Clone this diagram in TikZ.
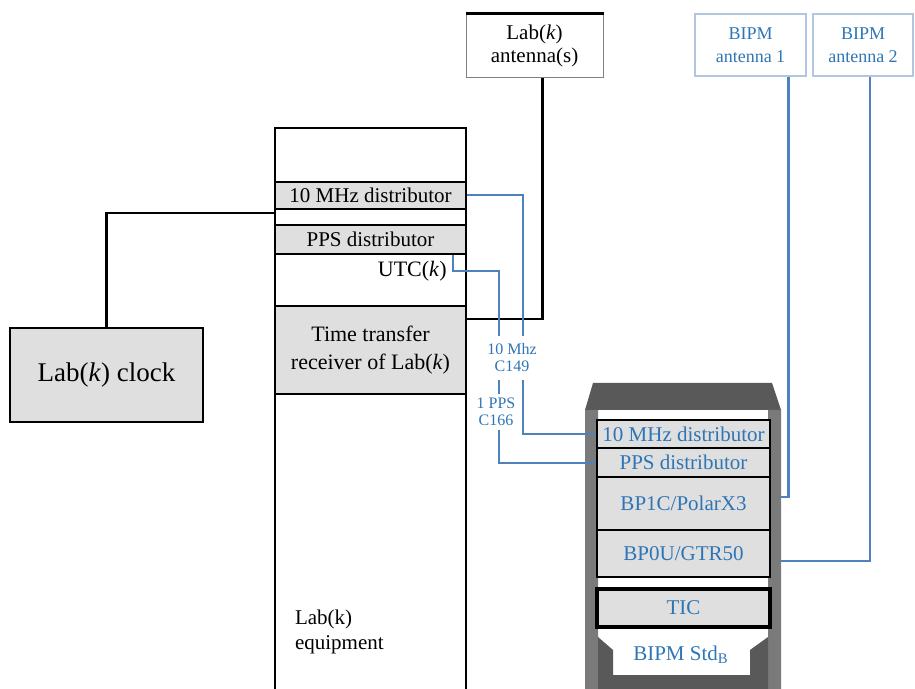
\documentclass[tikz,border=0pt]{standalone}
\usepackage{fontspec}
\setmainfont{Liberation Serif}
\usetikzlibrary{calc, positioning}
\definecolor{bipmblue}{RGB}{46,117,182}
\definecolor{bipmline}{RGB}{79,129,189}
\definecolor{rackdark}{RGB}{89,89,89}
\definecolor{rackside}{RGB}{122,122,122}

\begin{document}
\begin{tikzpicture}[x=0.5pt, y=-0.5pt,
    box/.style={draw, line width=1pt, fill=gray!25, minimum width=95.5pt, inner sep=0pt, font=\fontsize{10.5}{12}\selectfont},
    rackbox/.style={draw, line width=1pt, fill=gray!25, minimum width=86.5pt, inner sep=0pt, text=bipmblue, font=\fontsize{10.5}{12}\selectfont},
    antbox/.style={draw=bipmline!45, line width=0.6pt, minimum height=31pt, align=center, text=bipmblue, font=\fontsize{9}{11.5}\selectfont},
    blabel/.style={text=bipmblue, fill=white, inner xsep=1pt, align=center, font=\fontsize{8}{8.5}\selectfont},
    bline/.style={bipmline, line width=1pt},
    kline/.style={line width=1.3pt}]
\useasboundingbox (0,0) rectangle (915,689);
% Lab(k) side
\node[draw=gray, line width=0.5pt, minimum width=68.5pt, minimum height=32pt, align=center, font=\fontsize{10.5}{11.5}\selectfont] (labant) at (534.5,46) {Lab(\textit{k})\\antenna(s)};
\draw[kline] (labant.north west) -- (labant.north east);
\node[draw, line width=1pt, fill=gray!25, minimum width=96.5pt, minimum height=47pt, font=\fontsize{13.5}{15}\selectfont] (clock) at (106.5,375) {Lab(\textit{k}) clock};
\node[draw, kline, minimum width=95.5pt, minimum height=286pt] (equip) at (370.5,414) {};
\node[box, minimum height=13.5pt] (dist10) at (370.5,195.5) {10 MHz distributor};
\node[box, minimum height=14.5pt] (distpps) at (370.5,239.5) {PPS distributor};
\node[anchor=east, inner sep=0pt, font=\fontsize{11}{12}\selectfont] (utc) at (447,271) {UTC(\textit{k})};
\node[box, minimum height=44pt, align=center, font=\fontsize{11}{14}\selectfont] (rcv) at (370.5,350) {Time transfer\\receiver of Lab(\textit{k})};
\node[anchor=north west, align=left, font=\fontsize{10.5}{12.5}\selectfont] (equiplab) at (288,603) {Lab(k)\\equipment};
\coordinate (clkin) at (275,213);
\coordinate (antin) at (466,319);
\draw[kline] (clock.north) |- (clkin);
\draw[kline] ([xshift=4pt]labant.south) |- (antin);
% BIPM side
\node[antbox, minimum width=55.5pt] (bant1) at (750.5,45) {BIPM\\antenna 1};
\node[antbox, minimum width=50pt] (bant2) at (863,45) {BIPM\\antenna 2};
\fill[rackdark] (593,383) -- (772,383) -- (781,410) -- (585,410) -- cycle;
\fill[rackside] (585,410) rectangle (598,689) (768,410) rectangle (781,689);
\fill[rackdark] (598,689) -- (598,637) -- (613,650) -- (613,675) -- (750,675) -- (750,650) -- (768,637) -- (768,689) -- cycle;
\node[rackbox, minimum height=14pt] (rdist10) at (683.5,434) {10 MHz distributor};
\node[rackbox, minimum height=14.5pt] (rdistpps) at (683.5,462.5) {PPS distributor};
\node[rackbox, minimum height=26.5pt] (rpolar) at (683.5,503.5) {BP1C/PolarX3};
\node[rackbox, minimum height=23.5pt] (rgtr) at (683.5,553.5) {BP0U/GTR50};
\node[rackbox, line width=1.6pt, minimum height=19pt] (rtic) at (683.5,608) {TIC};
\node[text=bipmblue, font=\fontsize{10.5}{12}\selectfont] (rstd) at (681,655) {BIPM Std\textsubscript{B}};
\coordinate (c10) at (523,434);
\coordinate (utcout) at ([xshift=-7pt]distpps.south east);
\coordinate (ppsbend) at (499,271);
\coordinate (pin) at (781,497);
\coordinate (gin) at (781,561);
\draw[bline] (dist10.east) -| (c10) -- (rdist10.west);
\draw[bline] (utcout) |- (ppsbend) |- (rdistpps.west);
\draw[bline, line width=1.1pt] ([xshift=19pt]bant1.south) |- (pin);
\draw[bline, line width=1.1pt] ([xshift=3.5pt]bant2.south) |- (gin);
\node[blabel, inner ysep=4pt] (l10) at (512,358) {10 Mhz\\C149};
\node[blabel, inner ysep=2pt] (lpps) at (496,412) {1 PPS\\C166};
\end{tikzpicture}
\end{document}
